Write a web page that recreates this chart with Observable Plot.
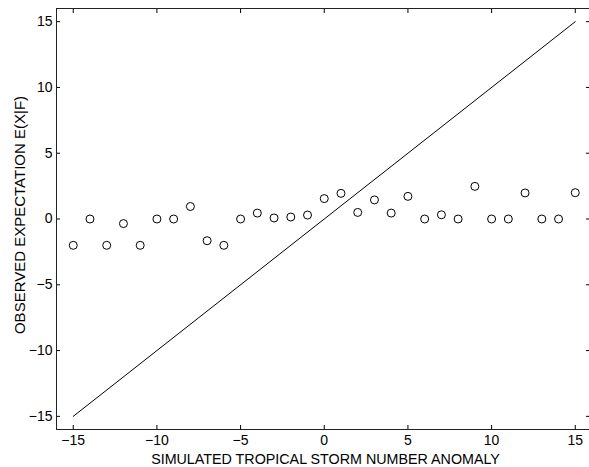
<!DOCTYPE html>
<html><head><meta charset="utf-8">
<script src="https://cdn.jsdelivr.net/npm/d3@7"></script>
<script src="https://cdn.jsdelivr.net/npm/@observablehq/plot@0.6"></script>
<style>html,body{margin:0;padding:0;background:#fff} svg{display:block}</style>
</head><body><div id="chart"></div>
<script>
const anomaly = [-15,-14,-13,-12,-11,-10,-9,-8,-7,-6,-5,-4,-3,-2,-1,0,1,2,3,4,5,6,7,8,9,10,11,12,13,14,15];
const expectation = [-2,0,-2,-0.35,-2,0,0,0.95,-1.65,-2,0,0.45,0.08,0.15,0.3,1.55,1.95,0.5,1.45,0.45,1.72,0,0.32,0,2.48,0,0,1.98,0,0,2];
const diagonal = [-15, 15];
const tickValues = [-15,-10,-5,0,5,10,15];
const xLabel = "SIMULATED TROPICAL STORM NUMBER ANOMALY";
const yLabel = "OBSERVED EXPECTATION E(X|F)";

const points = anomaly.map((x, i) => ({x, y: expectation[i]}));
const lineData = diagonal.map(v => ({x: v, y: v}));
const blank = () => "";

const chart = Plot.plot({
  width: 589, height: 467,
  marginLeft: 56, marginRight: 0, marginTop: 8, marginBottom: 38,
  style: {fontFamily: "'Liberation Sans', Arial, Helvetica, sans-serif", fontSize: "14px", background: "white", color: "black"},
  x: {domain: [-16, 15.85]},
  y: {domain: [-16, 16]},
  marks: [
    Plot.axisX(tickValues, {anchor: "bottom", tickSize: 0, tickPadding: 6, label: null, fontSize: 14}),
    Plot.axisY(tickValues, {anchor: "left", tickSize: 0, tickPadding: 4, label: null, fontSize: 14}),
    Plot.axisX(tickValues, {anchor: "bottom", tickSize: -4, tickFormat: blank, label: null}),
    Plot.axisX(tickValues, {anchor: "top", tickSize: -4, tickFormat: blank, label: null}),
    Plot.axisY(tickValues, {anchor: "left", tickSize: -4, tickFormat: blank, label: null}),
    Plot.axisY(tickValues, {anchor: "right", tickSize: -4, tickFormat: blank, label: null}),
    Plot.frame({stroke: "#222", strokeWidth: 1}),
    Plot.line(lineData, {x: "x", y: "y", stroke: "black", strokeWidth: 1}),
    Plot.dot(points, {x: "x", y: "y", r: 4, stroke: "black", strokeWidth: 1, fill: "none"}),
    Plot.text([xLabel], {frameAnchor: "bottom", textAnchor: "middle", dx: 2.5, dy: 30, lineAnchor: "middle", fontSize: 14.3, fill: "black"}),
    Plot.text([yLabel], {frameAnchor: "left", textAnchor: "middle", dx: -36, dy: -4, rotate: -90, lineAnchor: "middle", fontSize: 15, fill: "black"})
  ]
});
document.getElementById("chart").appendChild(chart);
</script>
</body></html>
